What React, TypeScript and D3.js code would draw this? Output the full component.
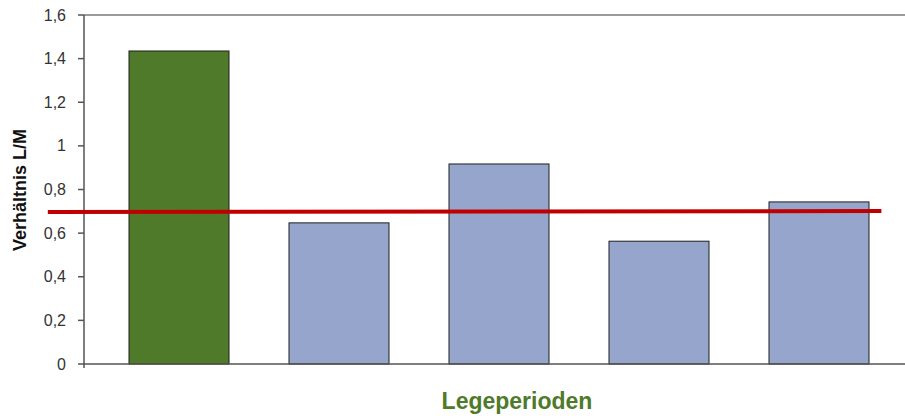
import { useEffect } from 'react';
import * as d3 from 'd3';

// Legeperioden (category labels are not shown in the chart)
const periods = ['P1', 'P2', 'P3', 'P4', 'P5'];
const ratios = [1.435, 0.647, 0.917, 0.563, 0.743];
const barColors = ['#4e7a2a', '#96a5cc', '#96a5cc', '#96a5cc', '#96a5cc'];
const yTicks = [0, 0.2, 0.4, 0.6, 0.8, 1, 1.2, 1.4, 1.6];

// red reference line, position in category units (0 = first bar centre)
const refLine = [
  { pos: -0.82, value: 0.697 },
  { pos: 4.39, value: 0.701 },
];

const W = 905;
const H = 416;
const left = 84;
const right = 905;
const top = 15;
const bottom = 364;

export default function App() {
  useEffect(() => {
    document.body.style.margin = '0';
  }, []);

  const y = d3.scaleLinear().domain([0, 1.6]).range([bottom, top]);
  const x = d3
    .scaleBand<string>()
    .domain(periods)
    .range([99, 899])
    .paddingInner(0.375)
    .paddingOuter(0.1875);

  // linear mapping from category index to pixel for the reference line
  const xPos = d3
    .scaleLinear()
    .domain([0, periods.length - 1])
    .range([
      (x(periods[0]) ?? 0) + x.bandwidth() / 2,
      (x(periods[periods.length - 1]) ?? 0) + x.bandwidth() / 2,
    ]);

  const line = d3
    .line<{ pos: number; value: number }>()
    .x((d) => xPos(d.pos))
    .y((d) => y(d.value));

  const fmt = (v: number) => String(+v.toFixed(1)).replace('.', ',');

  return (
    <svg width={W} height={H} style={{ display: 'block', background: '#fff' }}>
      {/* top border of plot area */}
      <line x1={left} x2={right} y1={top} y2={top} stroke="#9a9a9a" strokeWidth={2} />

      {/* bars */}
      {periods.map((p, i) => (
        <rect
          key={p}
          x={x(p)}
          y={y(ratios[i])}
          width={x.bandwidth()}
          height={y(0) - y(ratios[i])}
          fill={barColors[i]}
          stroke="#1e1e1e"
          strokeWidth={1}
        />
      ))}

      {/* axes */}
      <line x1={left} x2={right} y1={bottom} y2={bottom} stroke="#555" strokeWidth={1.5} />
      <line x1={left} x2={left} y1={top} y2={bottom + 4} stroke="#555" strokeWidth={1.5} />
      {yTicks.map((t) => (
        <g key={t}>
          <line x1={left - 6} x2={left} y1={y(t)} y2={y(t)} stroke="#555" strokeWidth={1.5} />
          <text
            x={66}
            y={y(t)}
            dy="0.35em"
            textAnchor="end"
            fontFamily="Liberation Sans, Arial, sans-serif"
            fontSize={16}
            fill="#333"
          >
            {fmt(t)}
          </text>
        </g>
      ))}

      {/* reference line */}
      <path d={line(refLine) ?? ''} fill="none" stroke="#c00000" strokeWidth={4} />

      {/* axis titles */}
      <text
        transform="translate(26,190) rotate(-90)"
        textAnchor="middle"
        fontFamily="Liberation Sans, Arial, sans-serif"
        fontSize={18}
        fontWeight="bold"
        fill="#111"
      >
        Verhältnis L/M
      </text>
      <text
        x={517}
        y={409}
        textAnchor="middle"
        fontFamily="Liberation Sans, Arial, sans-serif"
        fontSize={23}
        fontWeight="bold"
        fill="#4e7a2a"
      >
        Legeperioden
      </text>
    </svg>
  );
}
